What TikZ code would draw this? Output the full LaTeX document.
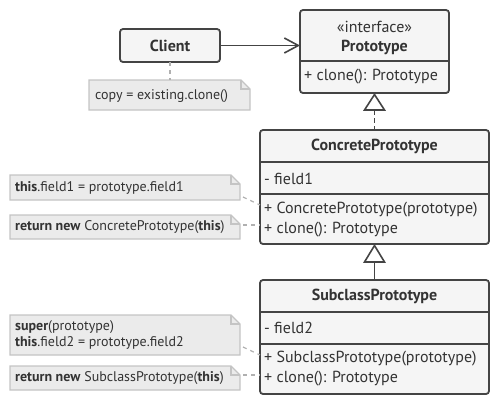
\documentclass[tikz,border=0pt]{standalone}
\usepackage{fontspec}
\setmainfont{PT Sans}
\usetikzlibrary{arrows.meta}
\definecolor{boxline}{HTML}{444444}
\definecolor{boxfill}{HTML}{F5F5F5}
\definecolor{notefill}{HTML}{EBEBEB}
\definecolor{noteline}{HTML}{C4C4C4}
\definecolor{txt}{HTML}{333333}
\definecolor{conn}{HTML}{B0B0B0}
\tikzset{
  classbox/.style={draw=boxline, fill=boxfill, line width=1.8pt, rounded corners=3pt},
  divline/.style={draw=boxline, line width=1.6pt},
  notebox/.style={fill=notefill, draw=noteline, line width=1.4pt},
  body/.style={font=\fontsize{16}{19}\selectfont, text=txt, inner sep=0pt},
  ntxt/.style={font=\fontsize{14}{16.5}\selectfont, text=txt, inner sep=0pt, align=left},
  title/.style={font=\fontsize{16}{19}\selectfont\bfseries, text=txt, inner sep=0pt},
  noteconn/.style={draw=conn, line width=1.2pt, dash pattern=on 4pt off 4pt},
  hollowtri/.style={draw=boxline, fill=white, line width=1.6pt, line join=miter},
}
\newcommand{\notefill}[5]{% name, x1, y1, x2, y2
  \path[notebox] (#2,#3) -- (#4-9,#3) -- (#4,#3+9) -- (#4,#5) -- (#2,#5) -- cycle;
  \draw[noteline, line width=1.2pt] (#4-9,#3) -- (#4-9,#3+9) -- (#4,#3+9);
  \coordinate (#1) at (#4,{(#3+#5)/2});
}
\begin{document}
\begin{tikzpicture}[x=1pt,y=-1pt]
\useasboundingbox (0,0) rectangle (500,400);
% Client
\draw[classbox] (120,29) rectangle (220,62);
\node[title] (client) at (170,45.5) {Client};
\coordinate (clientR) at (220,45.5);
\coordinate (clientB) at (170,62);
% Prototype
\draw[classbox] (300,10) rectangle (449,93);
\draw[divline] (300,61) -- (449,61);
\node[body] (stereo) at (374.5,27) {«interface»};
\node[title] (proto) at (374.5,47) {Prototype};
\node[body, anchor=west] (pclone) at (304,77) {+ clone(): Prototype};
\coordinate (protoL) at (300,45.5);
\coordinate (protoB) at (374.5,93);
\draw[boxline, line width=1.6pt, -{Straight Barb[length=14pt,width=15pt,line width=1.6pt]}] (clientR) -- (protoL);
% note client
\notefill{n0}{89}{80}{250}{110}
\node[ntxt, anchor=west] (n0t) at (95,96) {copy = existing.clone()};
\coordinate (n0top) at (170,80);
\draw[noteconn] (clientB) -- (n0top);
% ConcretePrototype
\draw[classbox] (260,130) rectangle (489,244);
\draw[divline] (260,162) -- (489,162);
\draw[divline] (260,194) -- (489,194);
\node[title] (cp) at (374.5,146) {ConcretePrototype};
\node[body, anchor=west] (cpf) at (264,179) {- field1};
\node[body, anchor=west] (cpc) at (264,210) {+ ConcretePrototype(prototype)};
\node[body, anchor=west] (cpm) at (264,229.5) {+ clone(): Prototype};
\coordinate (cpT) at (374.5,130);
\coordinate (cpB) at (374.5,244);
% realization
\draw[boxline, line width=1.6pt, dash pattern=on 5pt off 3pt] (374.5,110) -- (cpT);
\draw[hollowtri] (protoB) ++(0,1.5) -- (384.5,110) -- (364.5,110) -- cycle;
% notes for ConcretePrototype
\notefill{n1}{10}{175}{240}{200}
\node[ntxt, anchor=west] (n1t) at (15,187.5) {\textbf{this}.field1 = prototype.field1};
\notefill{n2}{10}{215}{240}{239}
\node[ntxt, anchor=west] (n2t) at (15,227) {\textbf{return new} ConcretePrototype(\textbf{this})};
\coordinate (cpc1) at (260,205);
\coordinate (cpc2) at (260,225);
\draw[noteconn] (243,197) -- (cpc1);
\draw[noteconn] (243,225) -- (cpc2);
% SubclassPrototype
\draw[classbox] (260,280) rectangle (489,394);
\draw[divline] (260,312) -- (489,312);
\draw[divline] (260,344) -- (489,344);
\node[title] (sp) at (374.5,296) {SubclassPrototype};
\node[body, anchor=west] (spf) at (264,328) {- field2};
\node[body, anchor=west] (spc) at (264,359) {+ SubclassPrototype(prototype)};
\node[body, anchor=west] (spm) at (264,378.5) {+ clone(): Prototype};
\coordinate (spT) at (374.5,280);
% generalization
\draw[boxline, line width=1.6pt] (374.5,262) -- (spT);
\draw[hollowtri] (cpB) ++(0,1.5) -- (384.5,262) -- (364.5,262) -- cycle;
% notes for SubclassPrototype
\notefill{n3}{10}{315}{240}{355}
\node[ntxt, anchor=west] (n3t) at (15,335) {\textbf{super}(prototype)\\\textbf{this}.field2 = prototype.field2};
\notefill{n4}{10}{366}{240}{390}
\node[ntxt, anchor=west] (n4t) at (15,378) {\textbf{return new} SubclassPrototype(\textbf{this})};
\coordinate (spc1) at (260,355);
\coordinate (spc2) at (260,375);
\draw[noteconn] (243,347) -- (spc1);
\draw[noteconn] (243,375) -- (spc2);
\end{tikzpicture}
\end{document}
